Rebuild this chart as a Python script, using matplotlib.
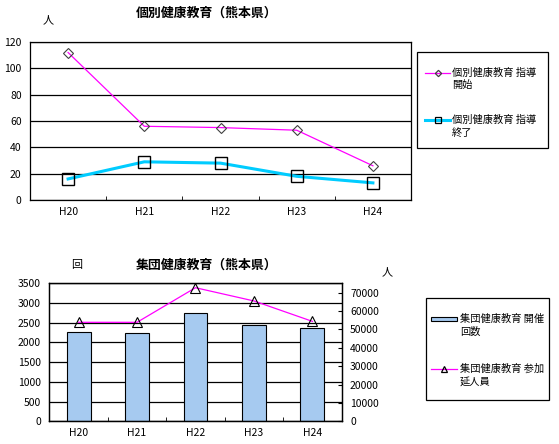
import matplotlib
matplotlib.use("Agg")
import matplotlib.pyplot as plt
from matplotlib.patches import Rectangle
from matplotlib.lines import Line2D
import numpy as np

plt.rcParams['font.family'] = ['Noto Sans CJK JP', 'DejaVu Sans']

years = ["H20", "H21", "H22", "H23", "H24"]
indiv_start = [112, 56, 55, 53, 26]
indiv_end = [16, 29, 28, 18, 13]
group_sessions = [2260, 2230, 2740, 2435, 2360]
group_people = [53800, 53800, 72600, 65400, 54300]

name_start = '個別健康教育 指導\n開始'
name_end = '個別健康教育 指導\n終了'
name_sessions = '集団健康教育 開催\n回数'
name_people = '集団健康教育 参加\n延人員'

W, H = 559, 444
fig = plt.figure(figsize=(W / 100, H / 100), dpi=100)

def fx(px):
    return px / W

def fy(py):
    return 1 - py / H

FS = 7.5
LFS = 7.35
x = np.arange(len(years))

PINK = '#FF00FF'
CYAN = '#00CCFF'
BARC = '#A6CAF0'

# ---------- Top chart ----------
ax1 = fig.add_axes([fx(30), fy(200), fx(411) - fx(30), fy(42) - fy(200)])
ax1.plot(x, indiv_start, color=PINK, lw=0.9, marker='D', ms=5.5,
         mfc='none', mec='#404040', mew=0.8)
ax1.plot(x, indiv_end, color=CYAN, lw=2.2, marker='s', ms=8,
         mfc='none', mec='black', mew=1.0)
ax1.set_xlim(-0.5, 4.5)
ax1.set_ylim(0, 120)
ax1.set_yticks(np.arange(0, 121, 20))
ax1.set_xticks(x)
ax1.set_xticklabels(years)
ax1.set_xticks(np.arange(0.5, 4.5, 1), minor=True)
ax1.tick_params(axis='x', which='major', length=0, labelsize=FS, pad=5)
ax1.tick_params(axis='x', which='minor', length=3, direction='in')
ax1.tick_params(axis='y', length=0, labelsize=FS, pad=6)
ax1.grid(axis='y', color='black', lw=0.9)
ax1.set_axisbelow(True)
for s in ax1.spines.values():
    s.set_color('black')
    s.set_linewidth(0.9)
fig.text(fx(207), fy(13), '個別健康教育（熊本県）', ha='center', va='center',
         fontsize=9.3, fontweight='bold')
fig.text(fx(48), fy(20), '人', ha='center', va='center', fontsize=8)

# ---------- Bottom chart ----------
ax2 = fig.add_axes([fx(49.3), fy(421.3), fx(341.7) - fx(49.3), fy(283.3) - fy(421.3)])
ax2.bar(x, group_sessions, width=0.41, color=BARC, edgecolor='black',
        lw=0.8, zorder=2)
ax2.set_xlim(-0.5, 4.5)
ax2.set_ylim(0, 3500)
ax2.set_yticks(np.arange(0, 3501, 500))
ax2.set_xticks(x)
ax2.set_xticklabels(years)
ax2.set_xticks(np.arange(0.5, 4.5, 1), minor=True)
ax2.tick_params(axis='x', which='major', length=0, labelsize=FS, pad=5)
ax2.tick_params(axis='x', which='minor', length=3, direction='in')
ax2.tick_params(axis='y', length=0, labelsize=FS, pad=6)
ax2.grid(axis='y', color='black', lw=0.9, zorder=0)
ax2.set_axisbelow(True)
for s in ax2.spines.values():
    s.set_color('black')
    s.set_linewidth(0.9)

ax3 = ax2.twinx()
ax3.plot(x, group_people, color=PINK, lw=0.9, marker='^', ms=7,
         mfc='none', mec='black', mew=0.8)
ax3.set_ylim(0, 75000)
ax3.set_yticks(np.arange(0, 70001, 10000))
ax3.tick_params(axis='y', length=3, direction='in', labelsize=FS, pad=6)
for s in ax3.spines.values():
    s.set_color('black')
    s.set_linewidth(0.9)

fig.text(fx(207), fy(265), '集団健康教育（熊本県）', ha='center', va='center',
         fontsize=9.3, fontweight='bold')
fig.text(fx(77), fy(265), '回', ha='center', va='center', fontsize=8)
fig.text(fx(387), fy(272), '人', ha='center', va='center', fontsize=8)

# ---------- Legends (drawn in figure pixel coordinates) ----------
def frame(x0, y0, x1, y1):
    fig.add_artist(Rectangle((fx(x0), fy(y1)), fx(x1) - fx(x0), fy(y0) - fy(y1),
                             transform=fig.transFigure, facecolor='white',
                             edgecolor='black', lw=0.9))

def line_entry(x0, x1, y, color, lw, marker, ms, mec):
    fig.add_artist(Line2D([fx(x0), fx(x1)], [fy(y), fy(y)], color=color, lw=lw,
                          transform=fig.transFigure))
    fig.add_artist(Line2D([fx((x0 + x1) / 2)], [fy(y)], marker=marker, ms=ms,
                          mfc='none', mec=mec, mew=0.9, lw=0,
                          transform=fig.transFigure))

def label(xp, y, text):
    a, b = text.split('\n')
    fig.text(fx(xp), fy(y), a, ha='left', va='center', fontsize=LFS)
    fig.text(fx(xp), fy(y + 12.5), b, ha='left', va='center', fontsize=LFS)

frame(417, 52, 548, 148)
line_entry(425, 450, 72.7, PINK, 0.9, 'D', 3.2, '#404040')
label(452, 72.7, name_start)
line_entry(425, 450, 120, CYAN, 2.2, 's', 4.5, 'black')
label(452, 120, name_end)

frame(426, 298, 549, 400)
fig.add_artist(Rectangle((fx(431), fy(320.8)), fx(457) - fx(431), fy(317.2) - fy(320.8),
                         transform=fig.transFigure, facecolor=BARC,
                         edgecolor='black', lw=0.8))
label(460, 319, name_sessions)
line_entry(431, 457, 369, PINK, 0.9, '^', 4, 'black')
label(460, 369, name_people)

fig.savefig('out.png', dpi=100)
